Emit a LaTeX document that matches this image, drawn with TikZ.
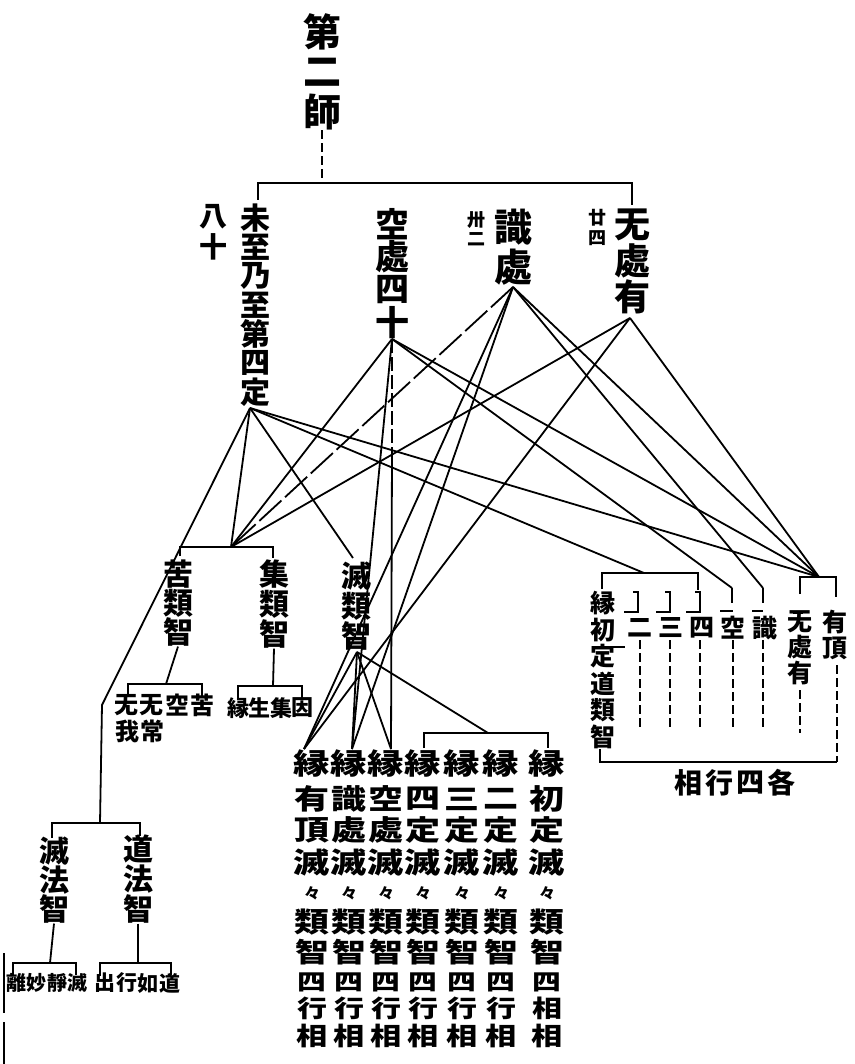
\documentclass[tikz,border=0pt]{standalone}
\usepackage{fontspec}
\newfontfamily\cjk{Noto Sans CJK JP}
\newfontfamily\cjkw[FakeStretch=1.25]{Noto Sans CJK JP}
\newcommand\vcol[6]{% name, x, y0, dy, size, list
  \foreach \c [count=\i from 0] in {#6} {\node[ch=#5] (#1\i) at (#2,{#3+\i*#4}) {\c};}}
\newcommand\hrow[6]{% name, x0, dx, y, size, list
  \foreach \c [count=\i from 0] in {#6} {\node[ch=#5] (#1\i) at ({#2+\i*#3},#4) {\c};}}
\begin{document}
\begin{tikzpicture}[x=1pt,y=-1pt,
  ch/.style={inner sep=0pt, font=\cjk\bfseries\fontsize{#1}{#1}\selectfont},
  ch/.default=30,
  cw/.style={inner sep=0pt, font=\cjkw\bfseries\fontsize{#1}{#1}\selectfont},
  ln/.style={line width=1.8pt},
  br/.style={line width=2.2pt},
  dsh/.style={line width=1.8pt, dash pattern=on 9pt off 4pt}]
\fill[white] (0,0) rectangle (854,1064);
\useasboundingbox (0,0) rectangle (854,1064);

% ---------- title and top level ----------
\vcol{ti}{322}{32}{40}{38}{第,二,師}
\coordinate (tj) at (322,183);
\draw[dsh] (ti2.south) -- (tj);
\draw[br] (258,200) -- (258,183) -- (632,183) -- (632,205);

\vcol{ba}{213}{217}{30}{28}{八,十}
\vcol{mi}{255}{218}{29}{30}{未,至,乃,至,第,四,定}
\vcol{ku}{392}{224}{33}{34}{空,處,四,十}
\vcol{sh}{513}{227}{40}{38}{識,處}
\vcol{sn}{476}{220}{19}{18}{卅,二}
\vcol{mu}{632}{225}{36}{36}{无,處,有}
\vcol{mn}{597}{218}{20}{18}{廿,四}

\coordinate (A) at (250,408);
\coordinate (K) at (392,339);
\coordinate (S) at (513,287);
\coordinate (W) at (630,318);

% ---------- middle level ----------
\vcol{kr}{178}{574}{29}{30}{苦,類,智}
\vcol{jr}{274}{574}{30}{30}{集,類,智}
\vcol{mr}{356}{576}{30}{30}{滅,類,智}
\coordinate (J1) at (231,547);
\draw[br] (180,556) -- (180,547) -- (273,547) -- (273,558);
\coordinate (M) at (353,558);
\coordinate (Mb) at (357,652);

\hrow{ks}{126}{25.5}{705}{24}{无,无,空,苦}
\hrow{kt}{127}{25}{731}{24}{我,常}
\coordinate (ksub) at (166,684);
\draw[ln] (kr2.south) -- (ksub);
\draw[br] (128,697) -- (128,684) -- (202,684) -- (202,697);

\hrow{js}{238}{21.5}{708}{22}{縁,生,集,因}
\coordinate (jsub) at (273,686);
\draw[ln] (jr2.south) -- (jsub);
\draw[br] (238,699) -- (238,686) -- (302,686) -- (302,698);

% ---------- law knowledge (left) ----------
\coordinate (C) at (102,705);
\coordinate (Cb) at (100,823);
\draw[ln] (A) -- (C) -- (Cb);
\draw[br] (52,838) -- (52,823) -- (140,823) -- (140,836);
\vcol{mf}{54}{851}{29}{30}{滅,法,智}
\vcol{df}{138}{849}{30}{30}{道,法,智}
\coordinate (mfsub) at (50,963);
\coordinate (dfsub) at (138,963);
\draw[ln] (mf2.south) -- (mfsub);
\draw[ln] (df2.south) -- (dfsub);
\draw[br] (13,976) -- (13,963) -- (76,963) -- (76,975);
\draw[br] (100,976) -- (100,963) -- (171,963) -- (171,975);
\hrow{ms}{16}{20.5}{983}{20}{離,妙,靜,滅}
\hrow{ds}{105}{21.5}{983}{21}{出,行,如,道}
\draw[br] (4,953) -- (4,1013);
\draw[br] (4,1022) -- (4,1064);

% ---------- bottom columns ----------
\def\bx{{312,349,386,423,462,501,547}}
\foreach \c [count=\j] in {縁,縁,縁,縁,縁,縁,縁} {\pgfmathsetmacro\xx{\bx[\j-1]}\node[cw=29] (ra\j) at (\xx,764) {\c};}
\foreach \c [count=\j] in {有,識,空,四,三,二,初} {\pgfmathsetmacro\xx{\bx[\j-1]}\node[cw=28] (rb\j) at (\xx,799) {\c};}
\foreach \c [count=\j] in {頂,處,處,定,定,定,定} {\pgfmathsetmacro\xx{\bx[\j-1]}\node[cw=28] (rc\j) at (\xx,830) {\c};}
\foreach \c [count=\j] in {滅,滅,滅,滅,滅,滅,滅} {\pgfmathsetmacro\xx{\bx[\j-1]}\node[cw=29] (rd\j) at (\xx,862) {\c};}
\foreach \c [count=\j] in {々,々,々,々,々,々,々} {\pgfmathsetmacro\xx{\bx[\j-1]}\node[ch=16] (re\j) at (\xx,893) {\c};}
\foreach \c [count=\j] in {類,類,類,類,類,類,類} {\pgfmathsetmacro\xx{\bx[\j-1]}\node[cw=28] (rf\j) at (\xx,922) {\c};}
\foreach \c [count=\j] in {智,智,智,智,智,智,智} {\pgfmathsetmacro\xx{\bx[\j-1]}\node[cw=27] (rg\j) at (\xx,952) {\c};}
\foreach \c [count=\j] in {四,四,四,四,四,四,四} {\pgfmathsetmacro\xx{\bx[\j-1]}\node[cw=23] (rh\j) at (\xx,982) {\c};}
\foreach \c [count=\j] in {行,行,行,行,行,行,相} {\pgfmathsetmacro\xx{\bx[\j-1]}\node[cw=24] (ri\j) at (\xx,1008) {\c};}
\foreach \c [count=\j] in {相,相,相,相,相,相,相} {\pgfmathsetmacro\xx{\bx[\j-1]}\node[cw=25] (rj\j) at (\xx,1036) {\c};}
\coordinate (c1) at (304,749);
\coordinate (c2) at (352,749);
\coordinate (c3) at (391,749);
\coordinate (b47) at (488,733);
\draw[br] (424,748) -- (424,733) -- (548,733) -- (548,748);

% ---------- right group ----------
\vcol{dr}{603}{603}{26.8}{25}{縁,初,定,道,類,智}
\node[ch=25] (n2) at (640,628) {二};
\node[ch=25] (n3) at (671,628) {三};
\node[ch=25] (n4) at (702,628) {四};
\node[ch=25] (nk) at (733,628) {空};
\node[ch=25] (ns) at (765,628) {識};
\vcol{nm}{800}{622}{25.5}{25}{无,處,有}
\vcol{nu}{835}{622}{26}{25}{有,頂}
\hrow{lb}{688}{31}{783}{28}{相,行,四,各}
\coordinate (B1) at (644,573);
\coordinate (B2) at (819,577);
\coordinate (Tk) at (732,588);
\coordinate (Ts) at (763,588);
\draw[br] (602,589) -- (602,573) -- (698,573) -- (698,590);
\foreach \X in {638,670,700} {\draw[br] (\X-5,592) -- (\X,592) -- (\X,612) -- (\X-14,612);}
\draw[br] (Tk) -- (732,603);
\draw[br] (720,611) -- (733,611);
\draw[br] (Ts) -- (763,603);
\draw[br] (752,611) -- (763,611);
\draw[br] (800,594) -- (800,577) -- (836,577) -- (836,597);
\draw[br] (793,613) -- (803,613);
\draw[br] (610,647) -- (625,647);
\foreach \X in {640,670,700,733,763} {\draw[dsh] (\X,640) -- (\X,727);}
\draw[dsh] (800,690) -- (800,733);
\draw[dsh] (837,665) -- (837,762);
\draw[br] (600,749) -- (600,762) -- (837,762);

% ---------- connectors ----------
\draw[ln] (A) -- (J1);
\draw[ln] (A) -- (M);
\draw[ln] (A) -- (B1);
\draw[ln] (A) -- (B2);
\draw[ln] (K) -- (J1);
\draw[ln, dash pattern=on 14pt off 4pt] (K) -- (392,450);
\draw[ln] (392,450) -- (c3);
\draw[ln] (K) -- (c2);
\draw[ln] (K) -- (Tk);
\draw[ln] (K) -- (B2);
\draw[ln, dash pattern=on 30pt off 5pt] (S) -- (J1);
\draw[ln] (S) -- (c1);
\draw[ln] (S) -- (c2);
\draw[ln] (S) -- (Ts);
\draw[ln] (S) -- (B2);
\draw[ln] (W) -- (J1);
\draw[ln] (W) -- (c1);
\draw[ln] (W) -- (B2);
\draw[ln] (Mb) -- (c1);
\draw[ln] (Mb) -- (c2);
\draw[ln] (Mb) -- (c3);
\draw[ln] (Mb) -- (b47);
\end{tikzpicture}
\end{document}
